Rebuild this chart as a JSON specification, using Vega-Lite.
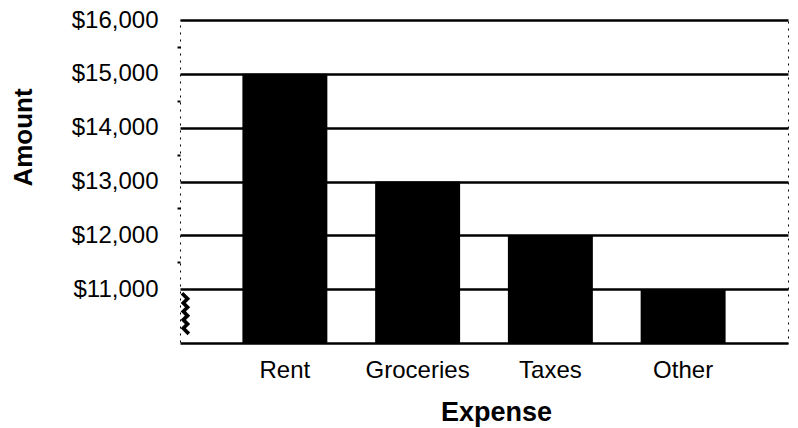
{
  "$schema": "https://vega.github.io/schema/vega-lite/v6.json",
  "width": 608,
  "height": 323,
  "autosize": {"type": "none"},
  "padding": {"left": 180, "top": 20, "right": 10, "bottom": 85},
  "background": "white",
  "data": {
    "values": [
      {"Expense": "Rent", "Amount": 15000},
      {"Expense": "Groceries", "Amount": 13000},
      {"Expense": "Taxes", "Amount": 12000},
      {"Expense": "Other", "Amount": 11000}
    ]
  },
  "mark": {"type": "bar", "color": "black"},
  "encoding": {
    "x": {
      "field": "Expense",
      "type": "nominal",
      "sort": null,
      "scale": {"paddingInner": 0.36, "paddingOuter": 0.47},
      "axis": {
        "labelAngle": 0,
        "domain": false,
        "ticks": false,
        "labelPadding": 15,
        "labelFontSize": 24,
        "labelFont": "Liberation Sans",
        "labelColor": "black",
        "title": "Expense",
        "titleFont": "Liberation Sans",
        "titleFontSize": 27,
        "titleFontWeight": "bold",
        "titleColor": "black",
        "titleX": 316,
        "titleY": 77,
        "titleBaseline": "alphabetic",
        "titleAlign": "center"
      }
    },
    "y": {
      "field": "Amount",
      "type": "quantitative",
      "scale": {"domain": [10000, 16000], "zero": false, "nice": false},
      "axis": {
        "values": [10000, 10500, 11000, 11500, 12000, 12500, 13000, 13500, 14000, 14500, 15000, 15500, 16000],
        "labelExpr": "datum.value == 10500 ? '⦚' : (datum.value % 1000 == 0 && datum.value > 10000 ? '$' + format(datum.value, ',') : '')",
        "domain": false,
        "grid": true,
        "gridColor": "black",
        "gridWidth": 2.5,
        "gridOpacity": {"condition": {"test": "datum.value % 1000 == 0", "value": 1}, "value": 0},
        "ticks": true,
        "tickColor": "black",
        "tickSize": 3,
        "tickWidth": 2,
        "tickOpacity": {"condition": {"test": "datum.value % 1000 == 0 || datum.value == 10500", "value": 0}, "value": 1},
        "labelPadding": {"condition": {"test": "datum.value == 10500", "value": -8}, "value": 19},
        "labelAlign": {"condition": {"test": "datum.value == 10500", "value": "center"}, "value": "right"},
        "labelFontSize": {"condition": {"test": "datum.value == 10500", "value": 52}, "value": 24},
        "labelFontWeight": {"condition": {"test": "datum.value == 10500", "value": "bold"}, "value": "normal"},
        "labelFont": "Liberation Sans",
        "labelColor": "black",
        "title": "Amount",
        "titleFont": "Liberation Sans",
        "titleFontSize": 26,
        "titleFontWeight": "bold",
        "titleColor": "black",
        "titleX": -157,
        "titleY": 117,
        "titleAngle": -90,
        "titleAlign": "center",
        "titleBaseline": "middle"
      }
    },
    "y2": {"datum": 10000}
  },
  "config": {
    "view": {"stroke": "black", "strokeDash": [2, 5], "strokeWidth": 1}
  }
}
